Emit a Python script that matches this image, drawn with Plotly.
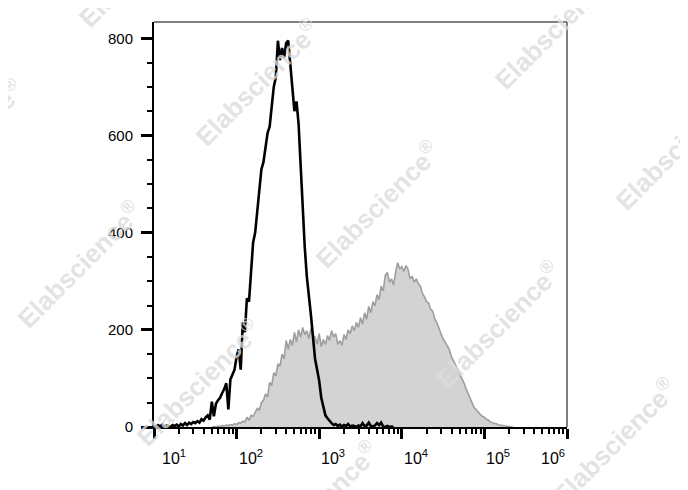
import plotly.graph_objects as go

# ---------------- data ----------------
# log10 of fluorescence intensity (bin centres) and event counts
black_log = [1.000, 1.025, 1.050, 1.075, 1.100, 1.125, 1.150, 1.175, 1.200, 1.225,
             1.250, 1.275, 1.300, 1.325, 1.350, 1.375, 1.400, 1.425, 1.450, 1.475,
             1.500, 1.525, 1.550, 1.575, 1.600, 1.625, 1.650, 1.675, 1.700, 1.725,
             1.750, 1.775, 1.800, 1.825, 1.850, 1.875, 1.900, 1.925, 1.950, 1.975,
             2.000, 2.025, 2.050, 2.075, 2.100, 2.125, 2.150, 2.175, 2.200, 2.225,
             2.250, 2.275, 2.300, 2.325, 2.350, 2.375, 2.400, 2.425, 2.450, 2.475,
             2.500, 2.525, 2.550, 2.575, 2.600, 2.625, 2.650, 2.675, 2.700, 2.725,
             2.750, 2.775, 2.800, 2.825, 2.850, 2.875, 2.900, 2.925, 2.950, 2.975,
             3.000, 3.025, 3.050, 3.075, 3.100, 3.125, 3.150, 3.175, 3.200, 3.225,
             3.250, 3.275, 3.300, 3.325, 3.350, 3.375, 3.400, 3.425, 3.450, 3.475,
             3.500, 3.525, 3.550, 3.575, 3.600, 3.625, 3.650, 3.675, 3.700, 3.725,
             3.750, 3.775, 3.800, 3.825, 3.850, 3.875, 3.900]
black_count = [3, 0, 4, 1, 5, 0, 3, 2, 0, 4,
               2, 5, 1, 6, 3, 8, 4, 9, 6, 10,
               8, 12, 9, 16, 13, 20, 24, 15, 52, 22,
               48, 55, 60, 70, 78, 90, 36, 98, 108, 118,
               145, 160, 118, 215, 195, 265, 258, 320, 380, 400,
               440, 490, 530, 545, 575, 605, 618, 665, 700, 720,
               795, 755, 780, 760, 790, 795, 745, 690, 650, 670,
               625, 540, 440, 370, 310, 275, 230, 185, 140, 118,
               95, 60, 38, 24, 18, 12, 8, 4, 6, 2,
               5, 1, 4, 2, 6, 1, 3, 2, 0, 3,
               1, 8, 2, 3, 9, 2, 1, 3, 8, 4,
               9, 1, 0, 2, 0, 1, 0]

gray_log = [1.700, 1.725, 1.750, 1.775, 1.800, 1.825, 1.850, 1.875, 1.900, 1.925,
            1.950, 1.975, 2.000, 2.025, 2.050, 2.075, 2.100, 2.125, 2.150, 2.175,
            2.200, 2.225, 2.250, 2.275, 2.300, 2.325, 2.350, 2.375, 2.400, 2.425,
            2.450, 2.475, 2.500, 2.525, 2.550, 2.575, 2.600, 2.625, 2.650, 2.675,
            2.700, 2.725, 2.750, 2.775, 2.800, 2.825, 2.850, 2.875, 2.900, 2.925,
            2.950, 2.975, 3.000, 3.025, 3.050, 3.075, 3.100, 3.125, 3.150, 3.175,
            3.200, 3.225, 3.250, 3.275, 3.300, 3.325, 3.350, 3.375, 3.400, 3.425,
            3.450, 3.475, 3.500, 3.525, 3.550, 3.575, 3.600, 3.625, 3.650, 3.675,
            3.700, 3.725, 3.750, 3.775, 3.800, 3.825, 3.850, 3.875, 3.900, 3.925,
            3.950, 3.975, 4.000, 4.025, 4.050, 4.075, 4.100, 4.125, 4.150, 4.175,
            4.200, 4.225, 4.250, 4.275, 4.300, 4.325, 4.350, 4.375, 4.400, 4.425,
            4.450, 4.475, 4.500, 4.525, 4.550, 4.575, 4.600, 4.625, 4.650, 4.675,
            4.700, 4.725, 4.750, 4.775, 4.800, 4.825, 4.850, 4.875, 4.900, 4.925,
            4.950, 4.975, 5.000, 5.025, 5.050, 5.075, 5.100, 5.125, 5.150, 5.175,
            5.200, 5.225, 5.250, 5.275, 5.300, 5.325, 5.350]
gray_count = [0, 1, 0, 2, 1, 3, 2, 4, 3, 5,
              4, 7, 5, 9, 8, 12, 10, 20, 14, 24,
              22, 30, 38, 35, 50, 55, 68, 62, 92, 85,
              112, 105, 130, 125, 150, 140, 178, 160, 180, 168,
              195, 175, 200, 185, 205, 190, 198, 182, 203, 188,
              185, 170, 192, 165, 180, 170, 188, 178, 198, 185,
              192, 170, 178, 168, 190, 180, 200, 192, 208, 198,
              215, 205, 225, 212, 235, 222, 248, 235, 258, 250,
              272, 262, 290, 280, 312, 318, 298, 305, 292, 318,
              338, 325, 330, 320, 332, 325, 305, 310, 298, 305,
              295, 290, 275, 268, 258, 255, 242, 238, 222, 215,
              202, 192, 182, 175, 165, 160, 145, 138, 128, 118,
              110, 100, 92, 80, 70, 58, 48, 40, 36, 30,
              26, 22, 20, 16, 14, 10, 9, 7, 6, 4,
              4, 3, 2, 2, 1, 0, 0]

y_ticks = [0, 200, 400, 600, 800]
x_decades = [1, 2, 3, 4, 5, 6]
watermark = "Elabscience<sup>®</sup>"

FONT = "Liberation Sans, Arial, sans-serif"

# page body keeps its default 8px margin, so the figure is offset by 8px
PAGE_OFF = 8
PLOT_L, PLOT_R, PLOT_T, PLOT_B = 154, 567, 22, 427   # target plot box on screen
W, H = 688, 490

fig = go.Figure()
fig.add_trace(go.Scatter(
    x=[10 ** v for v in gray_log], y=gray_count, mode="lines",
    fill="tozeroy", fillcolor="#d3d3d3",
    line=dict(color="#9e9e9e", width=1.6), hoverinfo="skip", showlegend=False))
fig.add_trace(go.Scatter(
    x=[10 ** v for v in black_log], y=black_count, mode="lines",
    line=dict(color="#000000", width=2.6), hoverinfo="skip", showlegend=False))

fig.update_layout(
    width=W, height=H,
    margin=dict(l=PLOT_L - PAGE_OFF, r=W - (PLOT_R - PAGE_OFF),
                t=PLOT_T - PAGE_OFF, b=H - (PLOT_B - PAGE_OFF)),
    paper_bgcolor="white", plot_bgcolor="white",
    font=dict(family=FONT, size=15, color="black"),
    showlegend=False,
)
fig.update_xaxes(
    type="log", range=[1, 6], tickvals=[10 ** d for d in x_decades],
    showticklabels=False, ticks="outside", ticklen=10, tickwidth=2.5,
    tickcolor="black", showline=True, linecolor="black", linewidth=2,
    showgrid=False, zeroline=False,
    minor=dict(ticks="outside", ticklen=5, tickwidth=1.5, tickcolor="black",
               dtick="D1", showgrid=False),
)
fig.update_yaxes(
    range=[0, 833.5], tickvals=y_ticks, ticks="outside", ticklen=11,
    tickwidth=2.5, tickcolor="black", showline=True, linecolor="black",
    linewidth=2, showgrid=False, zeroline=False, ticklabelstandoff=5,
    tickfont=dict(family=FONT, size=15, color="black"),
    minor=dict(ticks="outside", ticklen=5, tickwidth=1.5, tickcolor="black",
               dtick=50, showgrid=False),
)

# top and right frame lines (thin, dark grey)
fig.add_shape(type="line", xref="paper", yref="paper", x0=0, x1=1, y0=1, y1=1,
              line=dict(color="#555555", width=1.5))
fig.add_shape(type="line", xref="paper", yref="paper", x0=1, x1=1, y0=0, y1=1,
              line=dict(color="#555555", width=1.5))

# x tick labels (FlowJo style: placed to the right of each decade tick)
for d in x_decades:
    anchor = "right" if d == x_decades[-1] else "left"
    shift = 6 if d == x_decades[0] else 0
    fig.add_annotation(x=d, y=0, xref="x", yref="paper", text=f"10<sup>{d}</sup>",
                       showarrow=False, xanchor=anchor, yanchor="top",
                       xshift=shift, yshift=-18,
                       font=dict(family=FONT, size=16, color="black"))

# watermark (screen-pixel centres of the repeated logo -> paper fractions)
wm_centres = [(141, -36), (-39, 142), (257, 82), (557, 26), (377, 204),
              (677, 146), (79, 264), (198, 382), (498, 324), (316, 504), (614, 441)]
for px, py in wm_centres:
    fig.add_annotation(x=(px - PLOT_L) / (PLOT_R - PLOT_L),
                       y=(PLOT_B - py) / (PLOT_B - PLOT_T),
                       xref="paper", yref="paper",
                       text="<b>" + watermark + "</b>", showarrow=False,
                       textangle=-45, xanchor="center", yanchor="middle",
                       font=dict(family=FONT, size=26, color="rgba(220,220,220,0.8)"))

fig.write_html("out.html")
